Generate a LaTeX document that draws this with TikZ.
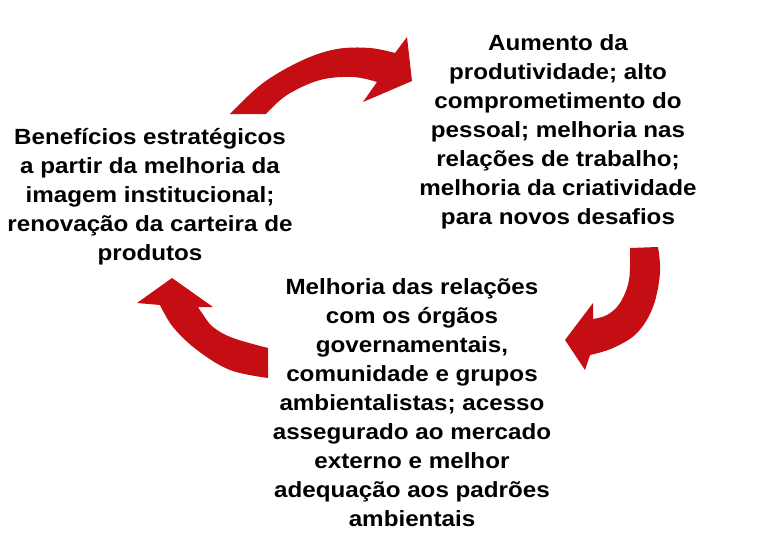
\documentclass[tikz,border=0pt]{standalone}
\usepackage{fontspec}
\setmainfont{Liberation Sans}[FakeStretch=1.10]
\definecolor{arrowred}{RGB}{196,14,20}
\tikzset{
  txt/.style={align=center, inner sep=0pt, font=\fontsize{22}{29}\selectfont\bfseries, text=black},
  bigarrow/.style={fill=arrowred, draw=none}
}
\begin{document}
\begin{tikzpicture}[x=1pt,y=-1pt]
\useasboundingbox (0,0) rectangle (761,541);
% texts
\node[txt] (top) at (558,132) {Aumento da\\produtividade; alto\\comprometimento do\\pessoal; melhoria nas\\relações de trabalho;\\melhoria da criatividade\\para novos desafios};
\node[txt] (left) at (150,197) {Benefícios estratégicos\\a partir da melhoria da\\imagem institucional;\\renovação da carteira de\\produtos};
\node[txt] (bottom) at (412,403) {Melhoria das relações\\com os órgãos\\governamentais,\\comunidade e grupos\\ambientalistas; acesso\\assegurado ao mercado\\externo e melhor\\adequação aos padrões\\ambientais};
% arrow 1 (top)
\fill[bigarrow] (230,114) -- plot[smooth, tension=0.6] coordinates {(230,114) (263,83) (303,60) (337,49) (370,48) (395,53)}
  -- (407,37) -- (412,81) -- (363,102) -- (377,82)
  -- plot[smooth, tension=0.6] coordinates {(377,82) (353,77) (320,80) (287,95) (266,114)} -- cycle;
% arrow 2 (right)
\fill[bigarrow] (630,248) -- (658,247) -- plot[smooth, tension=0.6] coordinates {(658,247) (660,273) (653,307) (637,333) (613,348) (590,355)}
  -- (585,370) -- (565,340) -- (593,303) -- (593,319)
  -- plot[smooth, tension=0.6] coordinates {(593,319) (607,315) (620,303) (629,280) (630,248)} -- cycle;
% arrow 3 (left)
\fill[bigarrow] (268,348) -- (268,378) -- plot[smooth, tension=0.6] coordinates {(268,378) (230,370) (197,350) (173,327) (160,305)}
  -- (137,303) -- (172,278) -- (213,307) -- (198,307)
  -- plot[smooth, tension=0.6] coordinates {(198,307) (202,313) (213,327) (233,338) (268,348)} -- cycle;
\end{tikzpicture}
\end{document}
